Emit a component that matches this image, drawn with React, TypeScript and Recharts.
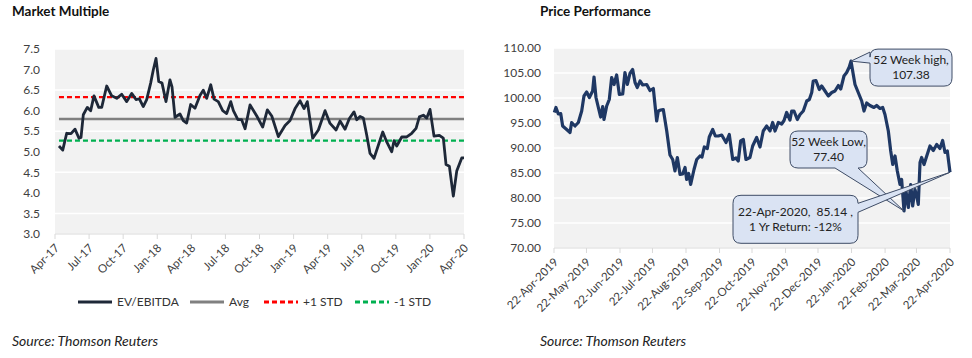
import React from 'react';
import { LineChart, Line, XAxis, YAxis, CartesianGrid, ReferenceDot } from 'recharts';

// ---------- Market Multiple (months since Apr-17) ----------
const evMonths = [0.35, 0.68, 1.03, 1.41, 1.76, 2.11, 2.29, 2.49, 2.84, 3.14, 3.43, 3.85, 4.11, 4.55, 4.99, 5.43, 5.87, 6.31, 6.75, 7.13, 7.42, 7.77, 8.07, 8.42, 8.65, 8.89, 9.13, 9.42, 9.77, 10.12, 10.3, 10.56, 11.0, 11.29, 11.59, 11.94, 12.32, 12.76, 13.05, 13.35, 13.71, 14.0, 14.37, 14.76, 15.11, 15.47, 15.7, 16.1, 16.43, 16.73, 17.17, 17.76, 18.28, 18.69, 19.08, 19.66, 20.25, 20.69, 21.13, 21.57, 21.92, 22.21, 22.68, 23.18, 23.77, 24.21, 24.74, 25.09, 25.53, 25.91, 26.32, 26.56, 26.85, 27.14, 27.44, 27.73, 28.08, 28.46, 28.85, 29.2, 29.64, 29.84, 30.08, 30.52, 30.96, 31.4, 31.78, 32.07, 32.42, 32.72, 33.01, 33.36, 33.83, 34.18, 34.42, 34.71, 35.06, 35.36, 35.8, 36.0];
const evValues = [5.14, 5.04, 5.45, 5.44, 5.55, 5.33, 5.35, 5.9, 6.08, 6.0, 6.36, 6.08, 6.08, 6.6, 6.36, 6.3, 6.4, 6.22, 6.42, 6.27, 6.29, 6.1, 6.27, 6.67, 6.99, 7.27, 6.71, 6.67, 6.22, 6.75, 6.58, 5.84, 5.92, 5.76, 5.7, 6.15, 6.06, 6.37, 6.5, 6.3, 6.63, 6.28, 6.22, 6.0, 5.93, 6.22, 6.0, 5.78, 5.78, 5.56, 6.14, 5.87, 5.6, 6.02, 5.87, 5.37, 5.64, 5.76, 6.05, 6.24, 6.05, 6.22, 5.33, 5.53, 6.0, 5.69, 5.53, 5.75, 5.55, 5.81, 5.97, 5.78, 5.86, 5.82, 5.4, 4.96, 4.84, 5.16, 5.48, 5.24, 5.0, 5.27, 5.14, 5.36, 5.36, 5.45, 5.57, 5.85, 5.89, 5.82, 6.03, 5.38, 5.4, 5.33, 4.69, 4.65, 3.92, 4.53, 4.85, 4.85];
const EV_AVG = 5.8;
const EV_PLUS = 6.33;
const EV_MINUS = 5.27;
const mmTicks = [0, 3, 6, 9, 12, 15, 18, 21, 24, 27, 30, 33, 36];
const mmTickLabels = ['Apr-17', 'Jul-17', 'Oct-17', 'Jan-18', 'Apr-18', 'Jul-18', 'Oct-18', 'Jan-19', 'Apr-19', 'Jul-19', 'Oct-19', 'Jan-20', 'Apr-20'];
const mmYTicks = [3.0, 3.5, 4.0, 4.5, 5.0, 5.5, 6.0, 6.5, 7.0, 7.5];
const mmLegend = ['EV/EBITDA', 'Avg', '+1 STD', '-1 STD'];

// ---------- Price Performance (days since 22-Apr-2019) ----------
const priceDays = [0.3, 1.8, 4, 6.2, 8, 11.7, 14.8, 16.3, 19.4, 22.5, 25.6, 27.7, 30.2, 32.7, 35.7, 37, 38.8, 41, 43.1, 45, 46.2, 48.7, 51.1, 53.3, 55.5, 57.9, 60.4, 63.5, 65.6, 67.8, 70.2, 72.7, 74.9, 77, 79.5, 82, 85.7, 88.7, 91.8, 94.9, 96.4, 98.6, 101, 104.2, 107.2, 109.7, 111.8, 114, 116.5, 118.9, 121.1, 122.6, 124.5, 126.3, 129.4, 131.9, 134.9, 136.8, 138.9, 141.7, 143.5, 146.7, 149.1, 151.9, 155, 159, 162, 165.2, 168.2, 170.3, 172.5, 175, 177.4, 181.1, 183.6, 187.3, 190.4, 193.4, 196.6, 199.6, 202.1, 204.3, 207.3, 210.4, 212.6, 215, 218.1, 219.7, 221.8, 224.9, 227.4, 230.4, 233.6, 236, 238.2, 239.6, 242.1, 245.2, 247.4, 250.5, 253.5, 256.7, 259.7, 262.8, 265, 268, 270.5, 272.9, 274.5, 276.6, 278.2, 281.2, 284.4, 286.5, 289, 292, 295.7, 298.2, 301.3, 303.8, 305.9, 309, 311.2, 313.1, 315.2, 317.3, 319.8, 321.3, 323.5, 325.3, 327.5, 329.7, 331.5, 333.6, 335.2, 336.7, 338.3, 339.8, 342, 344.5, 347.5, 350.6, 353.7, 356.7, 359.2, 361.4, 363.5, 366];
const priceValues = [97.1, 98.1, 96.8, 96.9, 94.4, 93.7, 93.1, 95.1, 94.4, 95.1, 97.4, 100.4, 101.2, 100.1, 101.4, 104.2, 100.1, 98.1, 96.2, 98.3, 95.7, 98.4, 99.7, 104.1, 102.7, 104.6, 100.7, 100.8, 105.1, 102.7, 104.9, 105.7, 103.1, 102.1, 103.4, 102.6, 102.7, 101.5, 101.9, 95.4, 97.4, 97.6, 97.7, 93.4, 88.6, 87.7, 85.4, 88.1, 84.7, 84.8, 86.1, 83.7, 84.9, 82.7, 85.7, 87.7, 88.4, 88.2, 90.2, 89.9, 92.2, 93.7, 92.4, 92.4, 92.6, 91.1, 92.7, 87.7, 88.0, 87.4, 91.4, 91.7, 87.7, 88.1, 90.4, 92.1, 90.2, 93.4, 94.4, 93.4, 95.1, 93.4, 95.1, 94.8, 95.5, 97.1, 95.6, 97.4, 97.4, 95.7, 96.7, 97.4, 99.4, 99.7, 101.1, 103.4, 103.5, 101.7, 102.4, 101.4, 100.4, 101.1, 101.4, 102.5, 101.8, 104.4, 105.1, 106.2, 107.38, 104.7, 102.7, 101.1, 99.4, 97.4, 99.0, 98.5, 98.1, 98.5, 97.9, 98.1, 96.7, 93.4, 89.4, 86.7, 88.4, 85.4, 82.7, 83.7, 77.4, 81.4, 78.1, 82.7, 78.4, 81.7, 80.4, 78.7, 87.1, 88.1, 86.7, 88.4, 90.4, 89.5, 90.7, 89.9, 91.5, 89.1, 89.4, 85.14];
const prTicks = [0, 30, 61, 91, 122, 153, 183, 214, 244, 275, 306, 335, 366];
const prTickLabels = ['22-Apr-2019', '22-May-2019', '22-Jun-2019', '22-Jul-2019', '22-Aug-2019', '22-Sep-2019', '22-Oct-2019', '22-Nov-2019', '22-Dec-2019', '22-Jan-2020', '22-Feb-2020', '22-Mar-2020', '22-Apr-2020'];
const prYTicks = [70, 75, 80, 85, 90, 95, 100, 105, 110];
const highPoint = { day: 274.5, value: 107.38, lines: ['52 Week high,', '107.38'] };
const lowPoint = { day: 323.5, value: 77.4, lines: ['52 Week Low,', '77.40'] };
const lastPoint = { day: 366, value: 85.14, lines: ['22-Apr-2020,  85.14 ,', '1 Yr Return: -12%'] };

const titles = ['Market Multiple', 'Price Performance'];
const sourceText = 'Source: Thomson Reuters';

const FONT = 'Lato, "Open Sans", sans-serif';

const mmData = evMonths.map((m, i) => ({ m, ev: evValues[i], avg: EV_AVG, up: EV_PLUS, dn: EV_MINUS }));
const prData = priceDays.map((d, i) => ({ d, p: priceValues[i] }));

const makeTick = (labels: string[], ticks: number[]) => (props: any) => {
  const { x, y, payload } = props;
  const idx = ticks.indexOf(payload.value);
  const label = idx >= 0 ? labels[idx] : '';
  return (
    <g transform={`translate(${x + 2},${y + 5})`}>
      <text x={0} y={0} dy="0.35em" textAnchor="end" transform="rotate(-45)" fontSize={11.5} fill="#404040" fontFamily={FONT}>
        {label}
      </text>
    </g>
  );
};

type Side = 'left' | 'right' | 'bottom';
const callout = (dx: number, dy: number, w: number, h: number, side: Side, a: number, b: number, lines: string[]) => (props: any) => {
  const { cx, cy } = props;
  if (cx == null || cy == null) return <g />;
  const x = cx + dx;
  const y = cy + dy;
  const r = 8;
  const tip = `L${cx},${cy}`;
  let d = `M${x + r},${y} L${x + w - r},${y} Q${x + w},${y} ${x + w},${y + r} `;
  if (side === 'right') d += `L${x + w},${y + a} ${tip} L${x + w},${y + b} `;
  d += `L${x + w},${y + h - r} Q${x + w},${y + h} ${x + w - r},${y + h} `;
  if (side === 'bottom') d += `L${x + b},${y + h} ${tip} L${x + a},${y + h} `;
  d += `L${x + r},${y + h} Q${x},${y + h} ${x},${y + h - r} `;
  if (side === 'left') d += `L${x},${y + b} ${tip} L${x},${y + a} `;
  d += `L${x},${y + r} Q${x},${y} ${x + r},${y} Z`;
  return (
    <g>
      <path d={d} fill="#DAE3F3" stroke="#3E4C66" strokeWidth={1} />
      {lines.map((t, i) => (
        <text key={i} x={x + w / 2} y={y + h / 2 + (i - (lines.length - 1) / 2) * 15} dy="0.35em" textAnchor="middle" fontSize={12} fill="#222" fontFamily={FONT} style={{ whiteSpace: 'pre' }}>
          {t}
        </text>
      ))}
    </g>
  );
};

const legendColors = ['#1E2838', '#808080', '#FF0000', '#00B050'];
const legendDash = ['', '', '5 3', '5 3'];
const legendLineX = [78, 190, 264, 355];

export default function App() {
  return (
    <div style={{ position: 'absolute', left: 0, top: 0, width: 972, height: 358, background: '#fff', fontFamily: FONT }}>
      <div style={{ position: 'absolute', left: 12, top: 3, fontSize: 13.5, fontWeight: 700, color: '#111' }}>{titles[0]}</div>
      <div style={{ position: 'absolute', left: 540, top: 3, fontSize: 13.5, fontWeight: 700, color: '#111' }}>{titles[1]}</div>
      <div style={{ position: 'absolute', left: 12, top: 332, fontSize: 14, fontStyle: 'italic', color: '#222' }}>{sourceText}</div>
      <div style={{ position: 'absolute', left: 540, top: 332, fontSize: 14, fontStyle: 'italic', color: '#222' }}>{sourceText}</div>

      <div style={{ position: 'absolute', left: 0, top: 0 }}>
        <LineChart width={480} height={358} data={mmData} margin={{ top: 49, right: 16, bottom: 74, left: 0 }}>
          <CartesianGrid fill="#F2F2F2" stroke="#FFFFFF" strokeWidth={1.5} vertical={false} />
          <XAxis dataKey="m" type="number" domain={[0, 36]} ticks={mmTicks} interval={0} height={50}
            axisLine={{ stroke: '#D9D9D9' }} tickLine={{ stroke: '#D9D9D9' }} tickSize={5}
            tick={makeTick(mmTickLabels, mmTicks)} />
          <YAxis type="number" domain={[3, 7.5]} ticks={mmYTicks} width={55} axisLine={false} tickLine={false}
            tickSize={6} tickMargin={9} tickFormatter={(v: number) => v.toFixed(1)}
            tick={{ fontSize: 12, fill: '#404040', fontFamily: FONT }} />
          <Line dataKey="avg" stroke="#808080" strokeWidth={2.5} dot={false} isAnimationActive={false} />
          <Line dataKey="up" stroke="#FF0000" strokeWidth={2.2} strokeDasharray="5 3" dot={false} isAnimationActive={false} />
          <Line dataKey="dn" stroke="#00B050" strokeWidth={2.2} strokeDasharray="5 3" dot={false} isAnimationActive={false} />
          <Line dataKey="ev" stroke="#1E2838" strokeWidth={2.8} dot={false} isAnimationActive={false} strokeLinejoin="round" />
        </LineChart>
      </div>

      <svg style={{ position: 'absolute', left: 0, top: 290 }} width={480} height={24}>
        {mmLegend.map((t, i) => (
          <g key={t}>
            <line x1={legendLineX[i]} x2={legendLineX[i] + 34} y1={12} y2={12} stroke={legendColors[i]} strokeWidth={2.8} strokeDasharray={legendDash[i] || undefined} />
            <text x={legendLineX[i] + 39} y={12} dy="0.35em" fontSize={12} fill="#333" fontFamily={FONT}>{t}</text>
          </g>
        ))}
      </svg>

      <div style={{ position: 'absolute', left: 490, top: 0 }}>
        <LineChart width={482} height={358} data={prData} margin={{ top: 48, right: 22, bottom: 40, left: 0 }}>
          <CartesianGrid fill="#F2F2F2" stroke="#FFFFFF" strokeWidth={1.5} vertical={false} />
          <XAxis dataKey="d" type="number" domain={[0, 366]} ticks={prTicks} interval={0} height={70}
            axisLine={{ stroke: '#D9D9D9' }} tickLine={{ stroke: '#D9D9D9' }} tickSize={5}
            tick={makeTick(prTickLabels, prTicks)} />
          <YAxis type="number" domain={[70, 110]} ticks={prYTicks} width={64} axisLine={false} tickLine={false}
            tickSize={6} tickMargin={7} tickFormatter={(v: number) => v.toFixed(2)}
            tick={{ fontSize: 12, fill: '#404040', fontFamily: FONT }} />
          <Line dataKey="p" stroke="#1F3864" strokeWidth={3.2} dot={false} isAnimationActive={false} strokeLinejoin="round" />
          <ReferenceDot x={lowPoint.day} y={lowPoint.value} r={0} ifOverflow="visible"
            shape={callout(-114, -80, 77, 37, 'bottom', 45, 68, lowPoint.lines)} />
          <ReferenceDot x={lastPoint.day} y={lastPoint.value} r={0} ifOverflow="visible"
            shape={callout(-217, 23, 125, 48, 'right', 8, 17, lastPoint.lines)} />
          <ReferenceDot x={highPoint.day} y={highPoint.value} r={0} ifOverflow="visible"
            shape={callout(19, -12, 82, 37, 'left', 3, 14, highPoint.lines)} />
        </LineChart>
      </div>
    </div>
  );
}
